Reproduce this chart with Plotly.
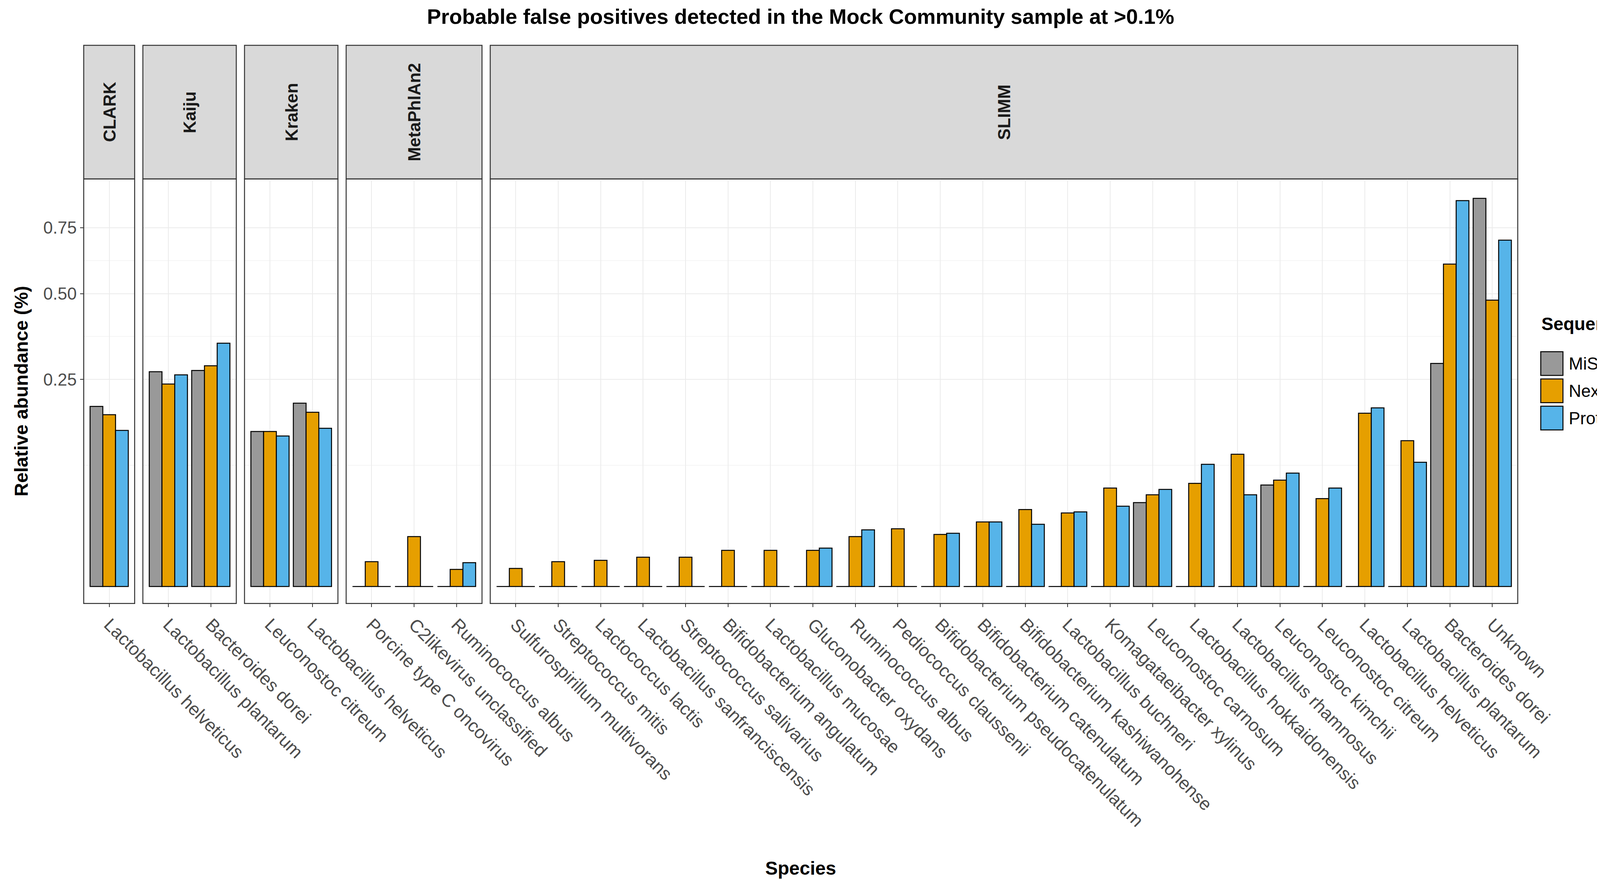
import plotly.graph_objects as go
import math

tools = ["CLARK", "Kaiju", "Kraken", "MetaPhlAn2", "SLIMM"]
species = {
    "CLARK": ["Lactobacillus helveticus"],
    "Kaiju": ["Lactobacillus plantarum", "Bacteroides dorei"],
    "Kraken": ["Leuconostoc citreum", "Lactobacillus helveticus"],
    "MetaPhlAn2": ["Porcine type C oncovirus", "C2likevirus unclassified", "Ruminococcus albus"],
    "SLIMM": ["Sulfurospirillum multivorans", "Streptococcus mitis", "Lactococcus lactis",
              "Lactobacillus sanfranciscensis", "Streptococcus salivarius", "Bifidobacterium angulatum",
              "Lactobacillus mucosae", "Gluconobacter oxydans", "Ruminococcus albus",
              "Pediococcus claussenii", "Bifidobacterium pseudocatenulatum", "Bifidobacterium catenulatum",
              "Bifidobacterium kashiwanohense", "Lactobacillus buchneri", "Komagataeibacter xylinus",
              "Leuconostoc carnosum", "Lactobacillus hokkaidonensis", "Lactobacillus rhamnosus",
              "Leuconostoc kimchii", "Leuconostoc citreum", "Lactobacillus helveticus",
              "Lactobacillus plantarum", "Bacteroides dorei", "Unknown"],
}
miseq = {
    "CLARK": [0.189], "Kaiju": [0.269, 0.272], "Kraken": [0.140, 0.196],
    "MetaPhlAn2": [0, 0, 0],
    "SLIMM": [0, 0, 0, 0, 0, 0, 0, 0, 0, 0, 0, 0, 0, 0, 0, 0.041, 0, 0, 0.060, 0, 0, 0, 0.290, 0.878],
}
nextseq = {
    "CLARK": [0.172], "Kaiju": [0.239, 0.284], "Kraken": [0.140, 0.177],
    "MetaPhlAn2": [0.0036, 0.0145, 0.0017],
    "SLIMM": [0.0019, 0.0036, 0.004, 0.005, 0.005, 0.0076, 0.0076, 0.0076, 0.0145, 0.0194, 0.0158,
              0.0243, 0.0345, 0.0315, 0.0565, 0.049, 0.062, 0.102, 0.066, 0.045, 0.175, 0.124, 0.606, 0.478],
}
proton = {
    "CLARK": [0.142], "Kaiju": [0.261, 0.345], "Kraken": [0.132, 0.146],
    "MetaPhlAn2": [0, 0, 0.0033],
    "SLIMM": [0, 0, 0, 0, 0, 0, 0, 0.0086, 0.0187, 0, 0.0165, 0.0243, 0.0226, 0.0325, 0.0376, 0.055,
              0.087, 0.049, 0.075, 0.0565, 0.186, 0.090, 0.868, 0.699],
}
series = [("MiSeq", miseq, "#999999"), ("NextSeq", nextseq, "#E69F00"), ("Proton", proton, "#56B4E9")]
yticks = [0.25, 0.50, 0.75]

FONT = "Liberation Sans, Arial, sans-serif"
fig = go.Figure()
x0, x1 = 0.049, 0.921
gap = 0.005
units = [len(species[t]) + 0.2 for t in tools]
per = (x1 - x0 - gap * (len(tools) - 1)) / sum(units)
ybot, ytop, stripTop = 0.317, 0.80, 0.952
yr = [-0.041, 0.984]
maj = [math.sqrt(v) for v in yticks]
minor = [maj[0] - (maj[1] - maj[0]), (maj[0] + maj[1]) / 2, (maj[1] + maj[2]) / 2]

pos = x0
for i, t in enumerate(tools):
    w = units[i] * per
    ax = "" if i == 0 else str(i + 1)
    cats = [f"{t}|{j}" for j in range(len(species[t]))]
    for name, d, col in series:
        fig.add_trace(go.Bar(
            x=cats, y=[math.sqrt(v) for v in d[t]], name=name, showlegend=False,
            marker=dict(color=col, line=dict(color="black", width=2.5)),
            xaxis="x" + ax, yaxis="y" + ax))
    xa = dict(domain=[pos, pos + w], anchor="y" + ax, type="category",
              range=[-0.6, len(cats) - 0.4], tickmode="array", tickvals=cats,
              ticktext=species[t], tickangle=45, showgrid=True, gridcolor="#EBEBEB", gridwidth=2,
              ticks="outside", ticklen=8, tickcolor="#333333", tickwidth=2,
              tickfont=dict(size=46, color="#4D4D4D", family=FONT), showline=False, zeroline=False)
    ya = dict(domain=[ybot, ytop], anchor="x" + ax, range=yr, tickmode="array",
              tickvals=maj, ticktext=["%.2f" % v for v in yticks],
              showticklabels=(i == 0), showgrid=True, gridcolor="#EBEBEB", gridwidth=2,
              minor=dict(tickmode="array", tickvals=minor, showgrid=True, gridcolor="#F5F5F5", gridwidth=1.5),
              ticks="outside" if i == 0 else "", ticklen=8, tickcolor="#333333", tickwidth=2,
              tickfont=dict(size=44, color="#4D4D4D", family=FONT), zeroline=False)
    if i > 0:
        ya["matches"] = "y"
    fig.layout["xaxis" + ax] = xa
    fig.layout["yaxis" + ax] = ya
    fig.add_shape(type="rect", xref="paper", yref="paper", x0=pos, x1=pos + w, y0=ybot, y1=ytop,
                  line=dict(color="#333333", width=2.5), fillcolor="rgba(0,0,0,0)")
    fig.add_shape(type="rect", xref="paper", yref="paper", x0=pos, x1=pos + w, y0=ytop, y1=stripTop,
                  line=dict(color="#333333", width=2.5), fillcolor="#D9D9D9", layer="below")
    fig.add_annotation(x=pos + w / 2, y=(ytop + stripTop) / 2, xref="paper", yref="paper",
                       xanchor="center", yanchor="middle",
                       text="<b>%s</b>" % t, textangle=-90, showarrow=False,
                       font=dict(size=44, color="#1A1A1A", family=FONT))
    pos += w + gap

# manual legend
lx, ly, sq, step = 0.935, 0.59, 0.062, 0.031
fig.add_annotation(x=lx, y=ly + 0.045, xref="paper", yref="paper", xanchor="left", yanchor="middle",
                   text="<b>Sequencer</b>", showarrow=False, font=dict(size=46, color="black", family=FONT))
for k, (name, d, col) in enumerate(series):
    yc = ly - k * step
    fig.add_shape(type="rect", xref="paper", yref="paper", x0=lx, x1=lx + 0.0135,
                  y0=yc - 0.0135, y1=yc + 0.0135, line=dict(color="black", width=2.5), fillcolor=col)
    fig.add_annotation(x=lx + 0.0165, y=yc, xref="paper", yref="paper", xanchor="left", yanchor="middle",
                       text=name, showarrow=False, font=dict(size=44, color="black", family=FONT))

fig.add_annotation(x=0.485, y=0.985, xref="paper", yref="paper", yanchor="middle",
                   text="<b>Probable false positives detected in the Mock Community sample at >0.1%</b>",
                   showarrow=False, font=dict(size=54, color="black", family=FONT))
fig.add_annotation(x=0.485, y=0.016, xref="paper", yref="paper", yanchor="middle",
                   text="<b>Species</b>", showarrow=False, font=dict(size=48, color="black", family=FONT))
fig.add_annotation(x=0.011, y=(ybot + ytop) / 2, xref="paper", yref="paper", xanchor="center",
                   text="<b>Relative abundance (%)</b>", textangle=-90, showarrow=False,
                   font=dict(size=48, color="black", family=FONT))

fig.update_layout(
    width=4500, height=2250, autosize=False, plot_bgcolor="white", paper_bgcolor="white",
    barmode="group", bargap=0.1, bargroupgap=0,
    margin=dict(l=0, r=0, t=0, b=0), showlegend=False,
    font=dict(family=FONT),
)
fig.write_html("out.html")
